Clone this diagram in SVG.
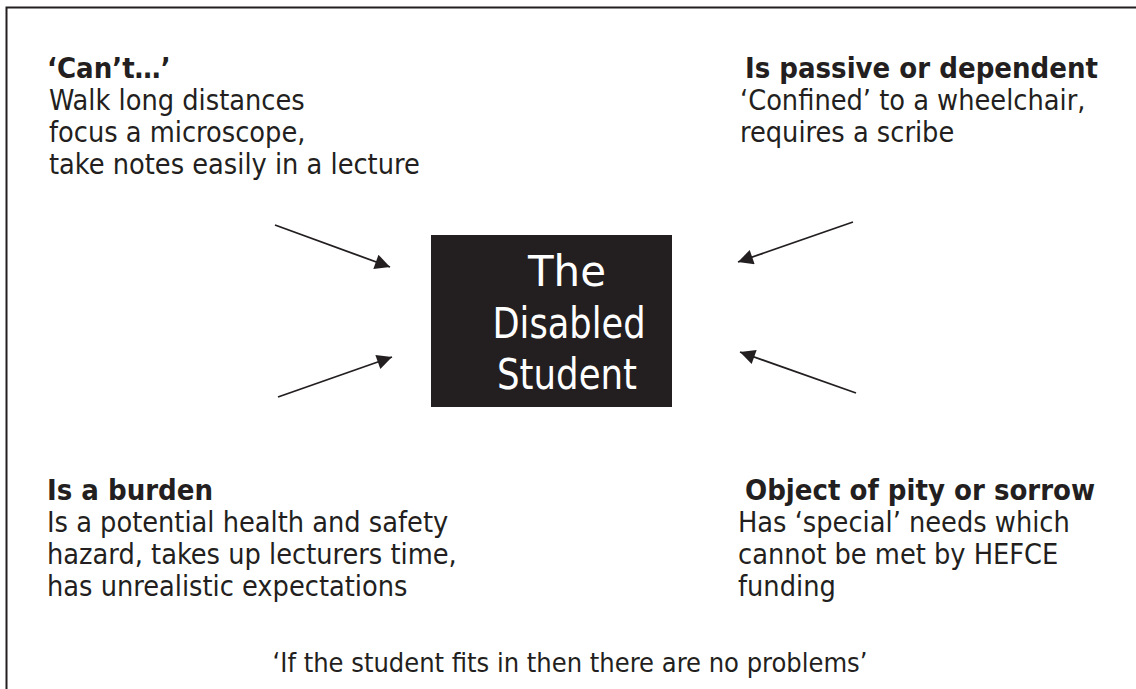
<svg xmlns="http://www.w3.org/2000/svg" width="1136" height="689" viewBox="0 0 1136 689">
<defs>
<style>
text{font-family:"DejaVu Sans Condensed","DejaVu Sans",sans-serif;fill:#231f20;}
.b{font-weight:bold;font-size:29px;}
.t{font-size:28.6px;}
.f{font-size:27px;text-anchor:middle;}
.c{font-size:43px;fill:#ffffff;text-anchor:middle;}
.ar{stroke:#231f20;stroke-width:1.8;fill:none;marker-end:url(#ah);}
</style>
<marker id="ah" viewBox="0 0 10 10" refX="10" refY="5" markerWidth="22" markerHeight="15" markerUnits="userSpaceOnUse" orient="auto">
<path d="M0,0 L10,5 L0,10 z" fill="#231f20"/>
</marker>
</defs>
<rect width="1136" height="689" fill="#ffffff"/>
<path d="M6.5,689 V7.5 H1136" fill="none" stroke="#231f20" stroke-width="2"/>
<g id="connectors">
<line class="ar" x1="275" y1="225" x2="390" y2="267"/>
<line class="ar" x1="278" y1="397" x2="392" y2="357"/>
<line class="ar" x1="853" y1="222" x2="738" y2="262"/>
<line class="ar" x1="856" y1="393" x2="740" y2="352"/>
</g>
<g id="center">
<rect x="431" y="235" width="241" height="172" fill="#231f20"/>
<text class="c" x="567" y="286" textLength="78" lengthAdjust="spacingAndGlyphs">The</text>
<text class="c" x="569" y="338" textLength="153" lengthAdjust="spacingAndGlyphs">Disabled</text>
<text class="c" x="567" y="389" textLength="140" lengthAdjust="spacingAndGlyphs">Student</text>
</g>
<g id="cant">
<text class="b" x="47" y="78">‘Can’t…’</text>
<text class="t" x="49" y="110">Walk long distances</text>
<text class="t" x="49" y="142">focus a microscope,</text>
<text class="t" x="49" y="174">take notes easily in a lecture</text>
</g>
<g id="passive">
<text class="b" x="745" y="78">Is passive or dependent</text>
<text class="t" x="740" y="110">‘Confined’ to a wheelchair,</text>
<text class="t" x="740" y="142">requires a scribe</text>
</g>
<g id="burden">
<text class="b" x="47" y="500">Is a burden</text>
<text class="t" x="47" y="532">Is a potential health and safety</text>
<text class="t" x="47" y="564">hazard, takes up lecturers time,</text>
<text class="t" x="47" y="596">has unrealistic expectations</text>
</g>
<g id="pity">
<text class="b" x="745" y="500">Object of pity or sorrow</text>
<text class="t" x="738" y="532">Has ‘special’ needs which</text>
<text class="t" x="738" y="564">cannot be met by HEFCE</text>
<text class="t" x="738" y="596">funding</text>
</g>
<g id="footer">
<text class="f" x="570" y="672">‘If the student fits in then there are no problems’</text>
</g>
</svg>
